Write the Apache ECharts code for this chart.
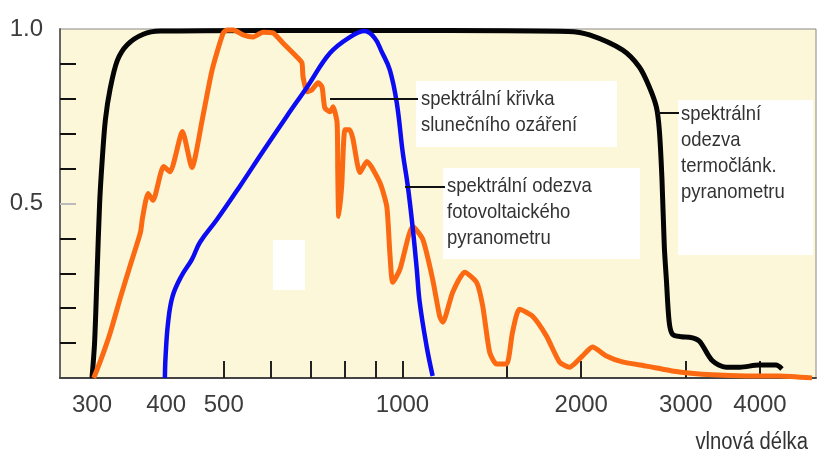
<!DOCTYPE html>
<html>
<head>
<meta charset="utf-8">
<script src="https://cdn.jsdelivr.net/npm/echarts@6/dist/echarts.min.js"></script>
<style>
  html, body { margin: 0; padding: 0; background: #ffffff; }
  #chart { width: 822px; height: 462px; }
</style>
</head>
<body>
<div id="chart"></div>
<script>
// Wavelength (nm) and relative values of the three curves
const solarWl = [302, 310, 322, 335, 348, 362, 365, 373, 380, 396, 406, 426, 442, 460, 478, 499, 507, 519, 539, 560, 582, 605, 629, 664, 677, 680, 691, 704, 721, 732, 740, 755, 764, 776, 778, 781, 790, 800, 815, 825, 848, 871, 916, 941, 952, 963, 990, 1041, 1082, 1124, 1155, 1169, 1215, 1273, 1333, 1365, 1402, 1440, 1497, 1532, 1574, 1656, 1748, 1838, 1911, 2009, 2089, 2205, 2346, 2574, 2925, 3323, 3791, 4307, 4894];
const solarVal = [0, 0.049, 0.13, 0.231, 0.323, 0.417, 0.46, 0.529, 0.509, 0.606, 0.591, 0.706, 0.603, 0.74, 0.883, 0.989, 0.997, 0.997, 0.983, 0.977, 0.991, 0.989, 0.96, 0.92, 0.903, 0.863, 0.82, 0.826, 0.846, 0.834, 0.774, 0.763, 0.777, 0.731, 0.594, 0.463, 0.55, 0.711, 0.711, 0.686, 0.589, 0.62, 0.56, 0.491, 0.36, 0.274, 0.311, 0.434, 0.397, 0.283, 0.177, 0.16, 0.246, 0.303, 0.274, 0.206, 0.074, 0.04, 0.04, 0.131, 0.197, 0.177, 0.12, 0.046, 0.031, 0.063, 0.089, 0.063, 0.046, 0.034, 0.017, 0.009, 0.006, 0.006, 0];

const pvWl = [398, 399, 403, 410, 424, 442, 456, 487, 533, 582, 639, 691, 755, 816, 864, 898, 923, 952, 978, 1001, 1021, 1041, 1057, 1069, 1098, 1124];
const pvVal = [0, 0.06, 0.16, 0.234, 0.291, 0.34, 0.389, 0.454, 0.551, 0.649, 0.751, 0.834, 0.931, 0.977, 0.994, 0.974, 0.934, 0.883, 0.789, 0.646, 0.549, 0.426, 0.311, 0.217, 0.091, 0.006];

const thermoWl = [300, 303, 306, 309, 312, 316, 322, 331, 344, 366, 391, 600, 1200, 1900, 2065, 2346, 2505, 2604, 2676, 2707, 2735, 2760, 2782, 2813, 2850, 2950, 3040, 3160, 3323, 3508, 3700, 3986, 4256, 4355];
const thermoVal = [0, 0.1, 0.3, 0.5, 0.62, 0.74, 0.83, 0.91, 0.955, 0.985, 0.994, 0.996, 0.996, 0.993, 0.983, 0.94, 0.891, 0.834, 0.777, 0.711, 0.57, 0.377, 0.283, 0.16, 0.125, 0.118, 0.117, 0.106, 0.05, 0.031, 0.031, 0.037, 0.037, 0.026];

// Axis ticks and labels
const xTickValues = [300, 400, 500, 600, 700, 800, 900, 1000, 1500, 2000, 3000, 4000];
const xLabelValues = [300, 400, 500, 1000, 2000, 3000, 4000];
const yTickValues = [0.1, 0.2, 0.3, 0.4, 0.6, 0.7, 0.8, 0.9];
const yLabelValues = [0.5, 1.0];

const labelSolar = 'spektrální křivka\nslunečního ozáření';
const labelPv = 'spektrální odezva\nfotovoltaického\npyranometru';
const labelThermo = 'spektrální\nodezva\ntermočlánk.\npyranometru';
const xTitle = 'vlnová délka';

const FONT = "'Liberation Sans', Arial, sans-serif";

const zip = (a, b) => a.map((x, i) => [x, b[i]]);

const chart = echarts.init(document.getElementById('chart'), null, { renderer: 'canvas' });

const whiteBox = (x, y, w, h) => ({
  type: 'rect', z: 1, shape: { x, y, width: w, height: h },
  style: { fill: '#ffffff' }, silent: true
});
const leader = (x1, x2, y) => ({
  type: 'line', z: 5, shape: { x1, y1: y, x2, y2: y },
  style: { stroke: '#111', lineWidth: 2 }, silent: true
});
// Annotation text, slightly condensed horizontally around its left anchor
const note = (x, y, text) => ({
  type: 'text', z: 5, x, y, scaleX: 0.88,
  style: { text, fill: '#333', font: '21px ' + FONT, lineHeight: 26, verticalAlign: 'top' }
});

chart.setOption({
  animation: false,
  grid: {
    left: 60, right: 6, top: 29, bottom: 84,
    show: true, backgroundColor: '#fcf7d8', borderColor: '#888', borderWidth: 1
  },
  xAxis: {
    type: 'log', logBase: 10, min: 265, max: 4970,
    axisLine: { show: true, lineStyle: { color: '#444', width: 2 } },
    axisTick: { show: true, inside: true, length: 17, customValues: xTickValues, lineStyle: { color: '#222', width: 2 } },
    axisLabel: {
      customValues: xLabelValues, margin: 15, color: '#3c3c3c',
      fontFamily: FONT, fontSize: 24, formatter: v => String(Math.round(v))
    },
    splitLine: { show: false }, minorTick: { show: false }
  },
  yAxis: [{
    type: 'value', min: 0, max: 1,
    axisLine: { show: true, lineStyle: { color: '#666', width: 2 } },
    axisTick: { show: true, inside: true, length: 16, customValues: yTickValues, lineStyle: { color: '#111', width: 2 } },
    axisLabel: {
      customValues: yLabelValues, margin: 17, color: '#3c3c3c',
      fontFamily: FONT, fontSize: 24, formatter: v => v.toFixed(1)
    },
    splitLine: { show: false }
  }, {
    type: 'value', min: 0, max: 1, position: 'left',
    axisLine: { show: false },
    axisTick: { show: true, inside: true, length: 16, customValues: [0.5], lineStyle: { color: '#bbb', width: 2 } },
    axisLabel: { show: false },
    splitLine: { show: false }
  }],
  graphic: [
    whiteBox(416, 81, 201, 66),
    whiteBox(443, 168, 197, 91),
    whiteBox(678, 100, 135, 155),
    whiteBox(273, 240, 32, 50),
    leader(330, 418, 99),
    leader(405, 445, 187),
    leader(657, 679, 113),
    note(421, 86, labelSolar),
    note(447, 173, labelPv),
    note(681, 101, labelThermo),
    {
      type: 'text', z: 5, x: 808, y: 443, scaleX: 0.88,
      style: { text: xTitle, fill: '#333', font: '23px ' + FONT, align: 'right', verticalAlign: 'middle' }
    }
  ],
  series: [{
    name: 'termočlánkový pyranometr', type: 'line', z: 3,
    data: zip(thermoWl, thermoVal), showSymbol: false, smooth: 0.3,
    lineStyle: { color: '#050505', width: 5 }
  }, {
    name: 'sluneční ozáření', type: 'line', z: 4,
    data: zip(solarWl, solarVal), showSymbol: false, smooth: 0.2,
    lineStyle: { color: '#fb6a12', width: 5 }
  }, {
    name: 'fotovoltaický pyranometr', type: 'line', z: 4,
    data: zip(pvWl, pvVal), showSymbol: false, smooth: 0.4,
    lineStyle: { color: '#0c0cf2', width: 4.5 }
  }]
});
</script>
</body>
</html>
